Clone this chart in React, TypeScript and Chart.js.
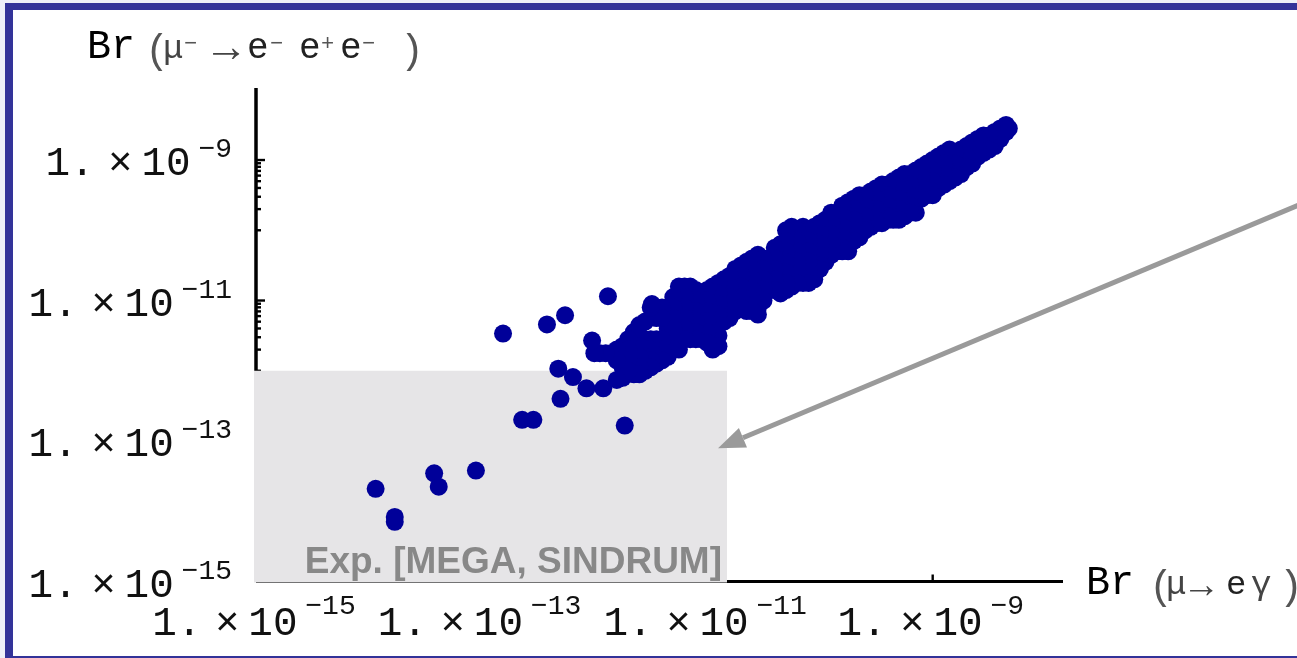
import React, { useEffect, useRef } from "react";
import { Chart, registerables } from "chart.js";

Chart.register(...registerables);

// ---- axis ranges / ticks ----
const xRange = [1e-15, 1.43e-8];
const yRange = [1e-15, 1.06e-8];
const xMajorTicks = [1e-15, 1e-13, 1e-11, 1e-9];
const xTickExponents = ["\u221215", "\u221213", "\u221211", "\u22129"];
const yMajorTicks = [1e-15, 1e-13, 1e-11, 1e-9];
const yTickExponents = ["\u221215", "\u221213", "\u221211", "\u22129"];
const yMinorTicks = [
  9e-10, 8e-10, 7e-10, 6e-10, 5e-10, 4e-10, 3e-10, 2e-10, 1e-10,
  9e-12, 8e-12, 7e-12, 6e-12, 5e-12, 4e-12, 3e-12, 2e-12, 1e-12,
];

// ---- experimental limits (MEGA / SINDRUM) ----
const limitMuEGamma = 1.5e-11;
const limitMu3e = 1e-12;
const arrowTail = [2.5e-6, 2.9e-10];
const arrowTip = [1.25e-11, 7.9e-14];

// ---- scan points: dense band, column by column (Br(mu->e gamma) value, Br(mu->3e) values) ----
const bandColumnsX = [
  4.47e-9, 3.55e-9, 2.82e-9, 2.24e-9, 1.78e-9, 1.41e-9, 1.12e-9, 8.91e-10,
  7.08e-10, 5.62e-10, 4.47e-10, 3.55e-10, 2.82e-10, 2.24e-10, 1.78e-10, 1.41e-10,
  1.12e-10, 8.91e-11, 7.08e-11, 5.62e-11, 4.47e-11, 3.55e-11, 2.82e-11, 2.24e-11,
  1.78e-11, 1.41e-11, 1.12e-11, 8.91e-12, 7.08e-12, 5.62e-12, 4.47e-12, 3.55e-12,
  2.82e-12, 2.24e-12, 1.78e-12, 1.41e-12, 1.12e-12,
];
const bandColumnsY = [
  [3.16e-9, 2.51e-9],
  [2.51e-9, 1.78e-9, 1.58e-9],
  [2.24e-9, 1.58e-9, 1.26e-9],
  [1.78e-9, 1.26e-9, 8.91e-10],
  [1.41e-9, 1.0e-9, 7.08e-10, 6.31e-10],
  [1.41e-9, 1.0e-9, 7.08e-10, 5.01e-10],
  [1.12e-9, 7.94e-10, 5.62e-10, 3.98e-10],
  [8.91e-10, 6.31e-10, 4.47e-10, 3.16e-10],
  [7.08e-10, 5.01e-10, 3.55e-10, 2.51e-10, 1.78e-10],
  [6.31e-10, 4.47e-10, 3.16e-10, 2.24e-10, 1.58e-10],
  [5.01e-10, 3.55e-10, 2.51e-10, 1.78e-10, 1.41e-10],
  [4.47e-10, 3.16e-10, 2.24e-10, 1.58e-10, 1.26e-10],
  [3.55e-10, 2.51e-10, 1.78e-10, 1.26e-10, 1.12e-10],
  [3.16e-10, 2.24e-10, 1.58e-10, 1.12e-10, 7.94e-11],
  [2.51e-10, 1.78e-10, 1.26e-10, 8.91e-11, 6.31e-11, 5.01e-11],
  [1.78e-10, 1.26e-10, 8.91e-11, 6.31e-11, 5.01e-11],
  [1.41e-10, 1.0e-10, 7.08e-11, 5.01e-11, 3.55e-11],
  [1.12e-10, 7.94e-11, 5.62e-11, 3.98e-11, 2.82e-11, 2.0e-11],
  [1.12e-10, 7.94e-11, 5.62e-11, 3.98e-11, 2.82e-11, 2.0e-11, 1.78e-11],
  [1.12e-10, 7.94e-11, 5.62e-11, 3.98e-11, 2.82e-11, 2.0e-11, 1.58e-11],
  [6.31e-11, 4.47e-11, 3.16e-11, 2.24e-11, 1.58e-11, 1.26e-11],
  [3.98e-11, 2.82e-11, 2.0e-11, 1.41e-11],
  [4.47e-11, 3.16e-11, 2.24e-11, 1.58e-11, 1.12e-11, 7.94e-12, 6.31e-12],
  [3.55e-11, 2.51e-11, 1.78e-11, 1.26e-11, 8.91e-12, 7.08e-12],
  [2.82e-11, 2.0e-11, 1.41e-11, 1.0e-11, 7.08e-12],
  [2.0e-11, 1.41e-11, 1.0e-11, 7.08e-12, 5.01e-12],
  [1.58e-11, 1.12e-11, 7.94e-12, 5.62e-12, 3.98e-12, 2.82e-12, 2.0e-12],
  [1.26e-11, 8.91e-12, 6.31e-12, 4.47e-12, 3.16e-12, 2.82e-12],
  [1.58e-11, 1.12e-11, 7.94e-12, 5.62e-12, 3.16e-12, 2.82e-12],
  [1.58e-11, 1.12e-11, 7.94e-12, 5.62e-12, 3.98e-12, 2.82e-12, 2.0e-12],
  [7.94e-12, 5.62e-12, 3.98e-12, 2.82e-12, 2.0e-12, 1.58e-12],
  [7.94e-12, 5.62e-12, 2.82e-12, 2.0e-12, 1.41e-12, 1.26e-12],
  [5.01e-12, 2.82e-12, 2.0e-12, 1.41e-12, 1.0e-12],
  [3.55e-12, 2.51e-12, 1.78e-12, 1.26e-12, 8.91e-13],
  [2.24e-12, 1.58e-12, 1.12e-12, 7.94e-13],
  [1.78e-12],
  [1.78e-12],
];

// ---- staggered band columns in between the ones above ----
const bandMidColumnsX = [
  3.98e-9, 3.16e-9, 2.51e-9, 2.0e-9, 1.58e-9, 1.26e-9, 1.0e-9, 7.94e-10,
  6.31e-10, 5.01e-10, 3.98e-10, 3.16e-10, 2.51e-10, 2.0e-10, 1.58e-10, 1.26e-10,
  1.0e-10, 7.94e-11, 6.31e-11, 5.01e-11, 3.98e-11, 3.16e-11, 2.51e-11, 2.0e-11,
  1.58e-11, 1.26e-11, 1.0e-11, 7.94e-12, 6.31e-12, 5.01e-12, 3.98e-12, 3.16e-12,
  2.51e-12, 2.0e-12, 1.58e-12, 1.26e-12, 1.0e-12,
];
const bandMidColumnsY = [
  [2.82e-9, 2.0e-9],
  [2.24e-9, 1.58e-9, 1.41e-9],
  [2.0e-9, 1.41e-9, 1.12e-9],
  [1.58e-9, 1.12e-9, 7.94e-10],
  [1.26e-9, 8.91e-10, 6.31e-10, 5.62e-10],
  [1.26e-9, 8.91e-10, 6.31e-10, 4.47e-10],
  [1.0e-9, 7.08e-10, 5.01e-10, 3.55e-10, 3.16e-10],
  [7.94e-10, 5.62e-10, 3.98e-10, 2.82e-10],
  [6.31e-10, 4.47e-10, 3.16e-10, 2.24e-10, 1.78e-10],
  [5.62e-10, 3.98e-10, 2.82e-10, 2.0e-10, 1.41e-10],
  [4.47e-10, 3.16e-10, 2.24e-10, 1.58e-10, 1.41e-10],
  [3.98e-10, 2.82e-10, 2.0e-10, 1.41e-10, 1.26e-10],
  [3.16e-10, 2.24e-10, 1.58e-10, 1.12e-10, 1.0e-10],
  [2.82e-10, 2.0e-10, 1.41e-10, 1.0e-10, 7.08e-11],
  [2.24e-10, 1.58e-10, 1.12e-10, 7.94e-11, 5.62e-11, 5.01e-11],
  [1.78e-10, 1.26e-10, 8.91e-11, 6.31e-11, 4.47e-11],
  [1.26e-10, 8.91e-11, 6.31e-11, 4.47e-11, 3.16e-11, 2.82e-11],
  [1.0e-10, 7.08e-11, 5.01e-11, 3.55e-11, 2.51e-11, 1.78e-11],
  [1.0e-10, 7.08e-11, 5.01e-11, 3.55e-11, 2.51e-11, 1.78e-11],
  [1.0e-10, 7.08e-11, 5.01e-11, 3.55e-11, 2.51e-11, 1.78e-11, 1.41e-11],
  [5.62e-11, 3.98e-11, 2.82e-11, 2.0e-11, 1.41e-11],
  [3.98e-11, 2.82e-11, 2.0e-11, 1.41e-11, 1.0e-11],
  [3.98e-11, 2.82e-11, 2.0e-11, 1.41e-11, 1.0e-11, 7.08e-12],
  [3.16e-11, 2.24e-11, 1.58e-11, 1.12e-11, 7.94e-12],
  [2.24e-11, 1.58e-11, 1.12e-11, 7.94e-12, 5.62e-12],
  [1.78e-11, 1.26e-11, 8.91e-12, 6.31e-12, 4.47e-12, 3.16e-12, 2.24e-12],
  [1.41e-11, 1.0e-11, 7.08e-12, 5.01e-12, 3.55e-12, 2.51e-12],
  [1.41e-11, 1.0e-11, 7.08e-12, 5.01e-12, 3.55e-12, 2.82e-12],
  [1.58e-11, 1.12e-11, 7.94e-12, 5.62e-12, 3.98e-12, 2.82e-12],
  [1.12e-11, 7.94e-12, 5.62e-12, 3.98e-12, 2.82e-12, 2.0e-12],
  [7.94e-12, 5.62e-12, 2.82e-12, 2.0e-12, 1.41e-12],
  [7.94e-12, 2.82e-12, 2.0e-12, 1.41e-12, 1.12e-12],
  [4.47e-12, 3.16e-12, 2.24e-12, 1.58e-12, 1.12e-12, 8.91e-13],
  [2.82e-12, 2.0e-12, 1.41e-12, 1.0e-12],
  [2.0e-12, 1.41e-12],
  [1.78e-12],
  [1.78e-12],
];

// ---- scattered scan points ----
const isolatedX = [
  4.73e-9, 1.55e-13, 3.8e-13, 5.5e-13, 1.32e-12, 9.55e-13, 4.79e-13, 6.46e-13,
  8.51e-13, 1.2e-12, 1.58e-12, 5.01e-13, 2.29e-13, 2.88e-13, 1.86e-12, 8.91e-14,
  3.8e-14, 4.17e-14, 1.15e-14, 1.7e-14, 1.7e-14, 3.24e-12,
];
const isolatedY = [
  2.82e-9, 3.39e-12, 4.57e-12, 6.17e-12, 1.15e-11, 2.69e-12, 1.07e-12, 8.13e-13,
  5.62e-13, 5.62e-13, 7.41e-13, 3.98e-13, 2.0e-13, 2.0e-13, 1.66e-13, 3.8e-14,
  3.47e-14, 2.24e-14, 2.09e-14, 8.31e-15, 7.08e-15, 8.91e-12,
];

const MONO = '"Liberation Mono", "DejaVu Sans Mono", monospace';
const MAIN_FONT = `41px ${MONO}`;
const SUP_FONT = `28px ${MONO}`;

function drawPower(ctx: CanvasRenderingContext2D, exp: string, anchorX: number, baseline: number, align: "center" | "right", supRaise: number) {
  ctx.font = SUP_FONT;
  const ws = ctx.measureText(exp).width;
  const total = 149 + ws;
  const left = align === "right" ? anchorX - total : anchorX - total / 2;
  ctx.textBaseline = "alphabetic";
  ctx.font = MAIN_FONT;
  ctx.textAlign = "left";
  ctx.fillText("1.", left - 4, baseline);
  ctx.textAlign = "center";
  ctx.fillText("\u00d7", left + 71, baseline);
  ctx.textAlign = "left";
  ctx.fillText("10", left + 92, baseline);
  ctx.font = SUP_FONT;
  ctx.fillText(exp, left + 149, baseline - supRaise);
}

type Piece = [string, number, number, number, string];
function drawPieces(ctx: CanvasRenderingContext2D, pieces: Piece[]) {
  ctx.textAlign = "left";
  ctx.textBaseline = "alphabetic";
  for (const [t, px, py, size, color] of pieces) {
    ctx.font = `${size}px ${MONO}`;
    ctx.fillStyle = color;
    ctx.fillText(t, px, py);
  }
}

const axesPlugin = {
  id: "mathAxes",
  beforeDatasetsDraw(chart: any) {
    const { ctx } = chart;
    const xs = chart.scales.x;
    const ys = chart.scales.y;
    const x0 = xs.getPixelForValue(xRange[0]);
    const y0 = ys.getPixelForValue(yRange[0]);
    ctx.save();
    ctx.strokeStyle = "#000";
    ctx.lineCap = "butt";
    ctx.lineWidth = 3.5;
    ctx.beginPath();
    ctx.moveTo(x0, ys.top);
    ctx.lineTo(x0, y0);
    ctx.stroke();
    ctx.lineWidth = 3;
    ctx.beginPath();
    ctx.moveTo(x0, y0);
    ctx.lineTo(xs.right, y0);
    ctx.stroke();
    ctx.lineWidth = 2.4;
    for (const v of yMajorTicks) {
      const py = ys.getPixelForValue(v);
      ctx.beginPath();
      ctx.moveTo(x0, py);
      ctx.lineTo(x0 + 9, py);
      ctx.stroke();
    }
    for (const v of yMinorTicks) {
      const py = ys.getPixelForValue(v);
      ctx.beginPath();
      ctx.moveTo(x0, py);
      ctx.lineTo(x0 + 5, py);
      ctx.stroke();
    }
    for (const v of xMajorTicks) {
      const px = xs.getPixelForValue(v);
      ctx.beginPath();
      ctx.moveTo(px, y0);
      ctx.lineTo(px, y0 - 7);
      ctx.stroke();
    }
    // experimental exclusion region
    const bx = xs.getPixelForValue(limitMuEGamma);
    const by = ys.getPixelForValue(limitMu3e);
    ctx.fillStyle = "#e6e5e7";
    ctx.fillRect(x0 - 2, by, bx - (x0 - 2), y0 + 1 - by);
    ctx.font = 'bold 37px "Liberation Sans", Arial, sans-serif';
    ctx.fillStyle = "#888888";
    ctx.textAlign = "right";
    ctx.textBaseline = "alphabetic";
    ctx.fillText("Exp. [MEGA, SINDRUM]", bx - 5, y0 - 9);
    ctx.restore();
  },
  afterDatasetsDraw(chart: any) {
    const { ctx } = chart;
    const xs = chart.scales.x;
    const ys = chart.scales.y;
    ctx.save();
    // arrow
    const tx = xs.getPixelForValue(arrowTip[0]);
    const ty = ys.getPixelForValue(arrowTip[1]);
    const sx = xs.getPixelForValue(arrowTail[0]);
    const sy = ys.getPixelForValue(arrowTail[1]);
    const ang = Math.atan2(ty - sy, tx - sx);
    const headLen = 27;
    const headHalf = 10.5;
    const bxp = tx - headLen * Math.cos(ang);
    const byp = ty - headLen * Math.sin(ang);
    ctx.strokeStyle = "#9a9a9a";
    ctx.fillStyle = "#9a9a9a";
    ctx.lineWidth = 5;
    ctx.beginPath();
    ctx.moveTo(sx, sy);
    ctx.lineTo(bxp, byp);
    ctx.stroke();
    ctx.beginPath();
    ctx.moveTo(tx, ty);
    ctx.lineTo(bxp + headHalf * Math.sin(ang), byp - headHalf * Math.cos(ang));
    ctx.lineTo(bxp - headHalf * Math.sin(ang), byp + headHalf * Math.cos(ang));
    ctx.closePath();
    ctx.fill();

    // tick labels
    ctx.fillStyle = "#111";
    const x0 = xs.getPixelForValue(xRange[0]);
    yMajorTicks.forEach((v, i) => {
      const py = ys.getPixelForValue(v);
      drawPower(ctx, yTickExponents[i], x0 - 24, py + 15, "right", 18);
    });
    xMajorTicks.forEach((v, i) => {
      const px = xs.getPixelForValue(v);
      drawPower(ctx, xTickExponents[i], px, 635, "center", 21);
    });

    // axis titles
    drawPieces(ctx, [
      ["Br", 87, 58, 40, "#000"],
      ["(", 145, 63, 40, "#555"],
      ["\u03bc", 163, 58, 34, "#444"],
      ["\u2212", 184, 50, 22, "#555"],
      ["\u2192", 213, 61, 44, "#444"],
      ["e", 247, 58, 36, "#222"],
      ["\u2212", 270, 50, 22, "#555"],
      ["e", 299, 58, 36, "#222"],
      ["+", 321, 50, 22, "#555"],
      ["e", 340, 58, 36, "#222"],
      ["\u2212", 362, 50, 22, "#555"],
      [")", 400, 63, 40, "#555"],
      ["Br", 1086, 594, 40, "#000"],
      ["(", 1149, 599, 40, "#555"],
      ["\u03bc", 1166, 594, 34, "#444"],
      ["\u2192", 1190, 597, 38, "#444"],
      ["e", 1226, 594, 34, "#222"],
      ["\u03b3", 1251, 594, 34, "#444"],
      [")", 1279, 599, 40, "#555"],
    ]);
    ctx.restore();
  },
};

export default function App() {
  const canvasRef = useRef<HTMLCanvasElement | null>(null);

  useEffect(() => {
    if (!canvasRef.current) return;
    const points: { x: number; y: number }[] = [];
    bandColumnsX.forEach((xv, i) => {
      bandColumnsY[i].forEach((yv) => points.push({ x: xv, y: yv }));
    });
    bandMidColumnsX.forEach((xv, i) => {
      bandMidColumnsY[i].forEach((yv) => points.push({ x: xv, y: yv }));
    });
    isolatedX.forEach((xv, i) => points.push({ x: xv, y: isolatedY[i] }));

    const chart = new Chart(canvasRef.current, {
      type: "scatter",
      data: {
        datasets: [
          {
            label: "scan",
            data: points,
            backgroundColor: "#000099",
            borderColor: "#000099",
            borderWidth: 0,
            pointRadius: 9,
            pointHoverRadius: 9,
          },
        ],
      },
      options: {
        responsive: false,
        animation: false,
        devicePixelRatio: 1,
        layout: { padding: { left: 256, right: 234, top: 88, bottom: 76.5 } },
        plugins: { legend: { display: false }, tooltip: { enabled: false } },
        events: [],
        scales: {
          x: { type: "logarithmic", min: xRange[0], max: xRange[1], display: false },
          y: { type: "logarithmic", min: yRange[0], max: yRange[1], display: false },
        },
      },
      plugins: [axesPlugin],
    } as any);
    return () => chart.destroy();
  }, []);

  return (
    <div style={{ position: "relative", width: 1297, height: 658, overflow: "hidden", background: "#eef0f8" }}>
      <style>{`body{margin:0;}`}</style>
      <div
        style={{
          position: "absolute",
          left: 5,
          top: 3,
          width: 1320,
          height: 660,
          boxSizing: "border-box",
          background: "#ffffff",
          borderLeft: "8px solid #333399",
          borderTop: "7px solid #333399",
          borderBottom: "7px solid #333399",
        }}
      />
      <canvas
        ref={canvasRef}
        width={1297}
        height={658}
        style={{ position: "absolute", left: 0, top: 0, width: 1297, height: 658, display: "block" }}
      />
    </div>
  );
}
